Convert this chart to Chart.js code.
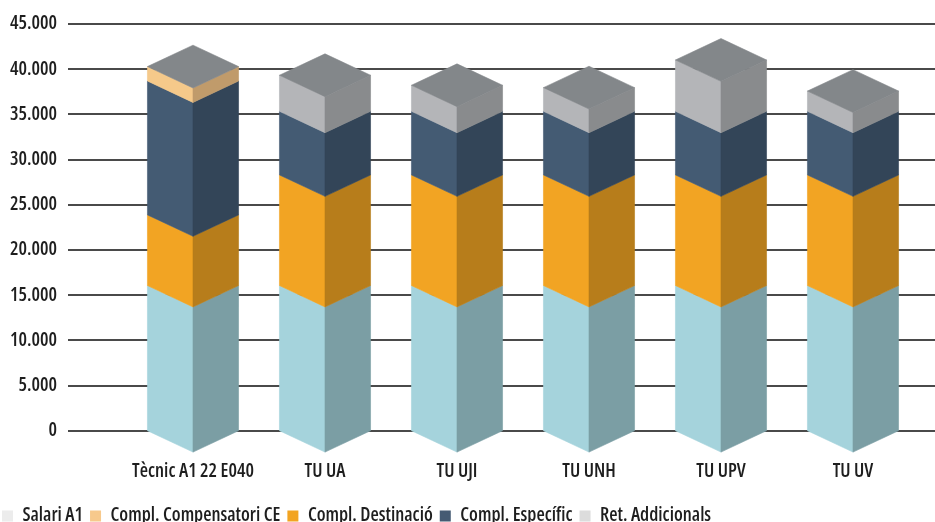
<!DOCTYPE html>
<html lang="ca">
<head>
  <meta charset="utf-8">
  <title>Retribucions A1</title>
  <script src="https://cdn.jsdelivr.net/npm/chart.js@4.4.1/dist/chart.umd.min.js"></script>
  <style>
    html, body { margin: 0; padding: 0; background: #fff; }
    #holder { width: 935px; height: 522px; }
  </style>
</head>
<body>
  <div id="holder"><canvas id="chart"></canvas></div>
  <script>
    // data
    const categories = ['Tècnic A1 22 E040', 'TU UA', 'TU UJI', 'TU UNH', 'TU UPV', 'TU UV'];
    const salariA1 = [16060, 16060, 16060, 16060, 16060, 16060];
    const complCompensatori = [1600, 0, 0, 0, 0, 0];
    const complDestinacio = [7820, 12240, 12240, 12240, 12240, 12240];
    const complEspecific = [14810, 7040, 7040, 7040, 7040, 7040];
    const retAddicionals = [0, 3990, 2880, 2620, 5680, 2240];
    const yTicks = [0, 5000, 10000, 15000, 20000, 25000, 30000, 35000, 40000, 45000];

    // legend colours, and the two face colours used for the 3d blocks
    const series = [
      { label: 'Salari A1', data: salariA1, legend: '#ececec', left: '#a5d3dc', right: '#7b9ea4', stack: 0 },
      { label: 'Compl. Compensatori CE', data: complCompensatori, legend: '#f7c98c', left: '#f5c98a', right: '#c09b6b', stack: 3 },
      { label: 'Compl. Destinació', data: complDestinacio, legend: '#f2a422', left: '#f2a423', right: '#b77d1b', stack: 1 },
      { label: 'Compl. Específic', data: complEspecific, legend: '#455b73', left: '#445b73', right: '#334558', stack: 2 },
      { label: 'Ret. Addicionals', data: retAddicionals, legend: '#dcdcdc', left: '#b4b5b8', right: '#898b8d', stack: 4 },
    ];
    const topColor = '#83878a';

    function fmt(v) {
      return String(v).replace(/\B(?=(\d{3})+(?!\d))/g, '.');
    }

    // Open Sans is a variable font here, 'condensed' goes into the font shorthand via weight
    Chart.defaults.font.family = "'Open Sans', sans-serif";
    Chart.defaults.font.weight = '600 condensed';
    Chart.defaults.font.size = 19;
    Chart.defaults.color = '#1e1e1e';

    function poly(ctx, pts, color) {
      ctx.beginPath();
      ctx.moveTo(pts[0][0], pts[0][1]);
      for (let k = 1; k < pts.length; k++) ctx.lineTo(pts[k][0], pts[k][1]);
      ctx.closePath();
      ctx.fillStyle = color;
      ctx.fill();
      ctx.strokeStyle = color;
      ctx.lineWidth = 0.6;
      ctx.stroke();
    }

    // horizontal rules, drawn from the y scale ticks across the whole width
    const rules = {
      id: 'rules',
      beforeDatasetsDraw(chart) {
        const ctx = chart.ctx;
        const y = chart.scales.y;
        ctx.save();
        ctx.strokeStyle = '#4a4a4a';
        ctx.lineWidth = 2;
        y.ticks.forEach(t => {
          const py = Math.round(y.getPixelForValue(t.value));
          ctx.beginPath();
          ctx.moveTo(68, py);
          ctx.lineTo(chart.width, py);
          ctx.stroke();
        });
        ctx.restore();
      }
    };

    // isometric blocks built on the bar elements and the y scale
    const blocks = {
      id: 'blocks',
      beforeDatasetDraw() { return false; },
      afterDatasetsDraw(chart) {
        const ctx = chart.ctx;
        const y = chart.scales.y;
        const bars = chart.getDatasetMeta(0).data;
        const order = series.slice().sort((a, b) => a.stack - b.stack);
        ctx.save();
        bars.forEach((bar, i) => {
          const c = bar.x;
          const half = bar.width / 2;
          const l = c - half, r = c + half;
          const d = half * 0.47;
          let base = 0;
          order.forEach(s => {
            const v = s.data[i];
            if (!v) return;
            const y0 = y.getPixelForValue(base);
            const y1 = y.getPixelForValue(base + v);
            poly(ctx, [[l, y1], [c, y1 + d], [c, y0 + d], [l, y0]], s.left);
            poly(ctx, [[c, y1 + d], [r, y1], [r, y0], [c, y0 + d]], s.right);
            base += v;
          });
          const yt = y.getPixelForValue(base);
          poly(ctx, [[l, yt], [c, yt - d], [r, yt], [c, yt + d]], topColor);
        });
        ctx.restore();
      }
    };

    new Chart(document.getElementById('chart'), {
      type: 'bar',
      data: {
        labels: categories,
        datasets: series.map(s => ({
          label: s.label,
          data: s.data,
          backgroundColor: s.legend,
          borderWidth: 0,
        })),
      },
      options: {
        responsive: true,
        maintainAspectRatio: false,
        animation: false,
        categoryPercentage: 0.69,
        barPercentage: 1,
        layout: { padding: { top: 24, right: 16, left: -5, bottom: -13.5 } },
        plugins: {
          tooltip: { enabled: false },
          legend: {
            position: 'bottom',
            align: 'start',
            labels: {
              boxWidth: 11,
              boxHeight: 11,
              padding: 7,
              color: '#1e1e1e',
            },
          },
        },
        scales: {
          x: {
            stacked: true,
            afterFit(scale) { scale.height += 14.5; },
            grid: { display: false, drawTicks: true, tickLength: 27.5 },
            border: { display: false },
            ticks: { padding: 2, maxRotation: 0, autoSkip: false },
          },
          y: {
            stacked: true,
            min: 0,
            max: 45000,
            afterFit(scale) { scale.width = 132; },
            afterBuildTicks(scale) { scale.ticks = yTicks.map(v => ({ value: v })); },
            grid: { display: false, drawTicks: true, tickLength: 59 },
            border: { display: false },
            ticks: { padding: 11, callback: v => fmt(v) },
          },
        },
      },
      plugins: [rules, blocks],
    });
  </script>
</body>
</html>
